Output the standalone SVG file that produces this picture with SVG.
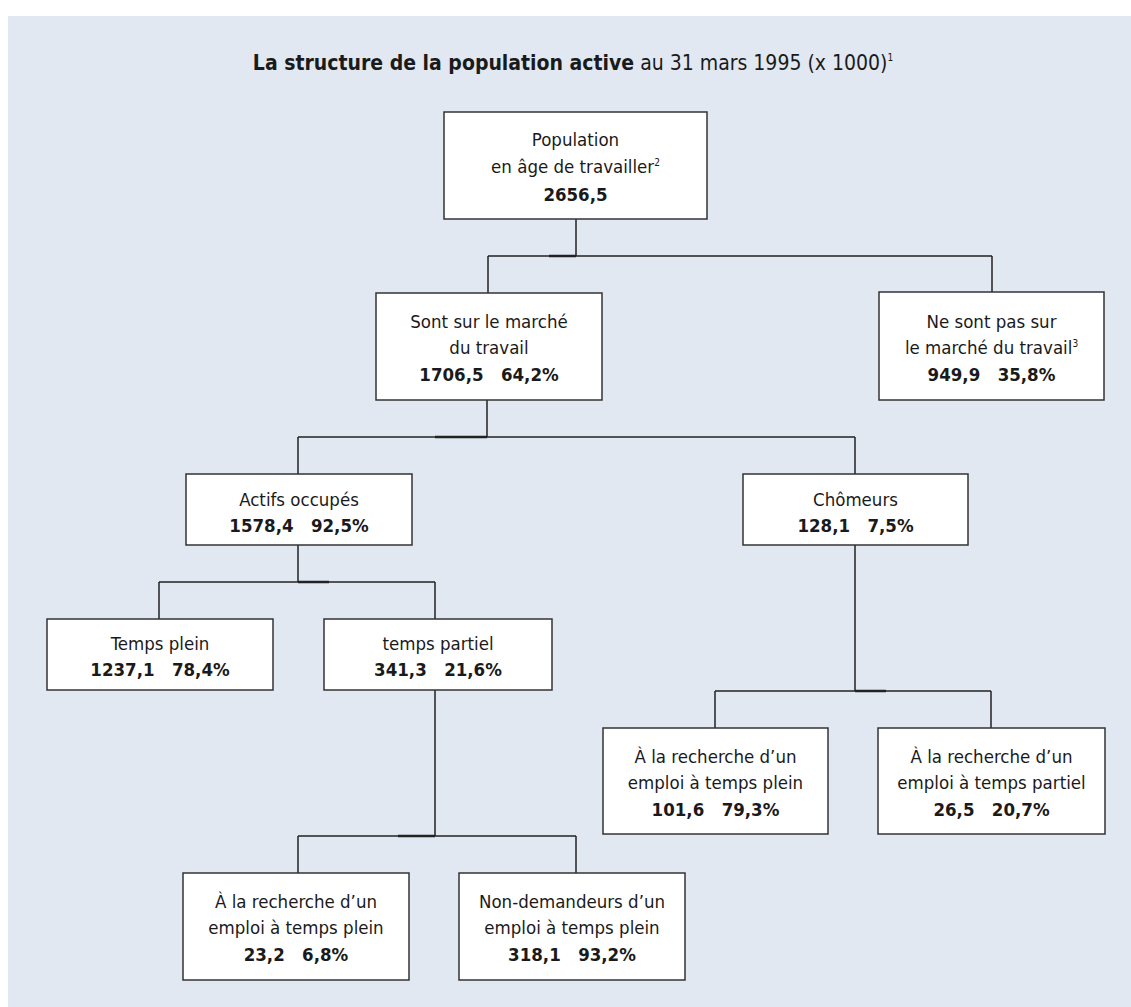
<svg xmlns="http://www.w3.org/2000/svg" width="1131" height="1007" viewBox="0 0 1131 1007">
<style>
.bg{fill:#E1E8F2}
.box{fill:#fff;stroke:#333;stroke-width:1.5}
.t{font-family:"DejaVu Sans Condensed","DejaVu Sans",sans-serif;font-stretch:condensed;font-size:18.5px;fill:#1a1a1a;text-anchor:middle}
.b{font-weight:bold}
.sup{font-size:10px}
.title{font-family:"DejaVu Sans Condensed","DejaVu Sans",sans-serif;font-stretch:condensed;font-size:21px;fill:#1a1a1a;text-anchor:middle}
.conn line{stroke:#222;stroke-width:1.5}
.conn line.thick{stroke-width:2.5}
</style>
<rect class="bg" x="8" y="16" width="1123" height="991"/>
<text class="title" x="573" y="70" xml:space="preserve"><tspan font-weight="bold">La structure de la population active</tspan> au 31 mars 1995 (x 1000)<tspan class="sup" dy="-9">1</tspan></text>
<g class="conn" id="connectors">
<line x1="576" y1="219" x2="576" y2="256"/>
<line x1="488" y1="256" x2="992" y2="256"/>
<line class="thick" x1="549" y1="256" x2="576" y2="256"/>
<line x1="488" y1="256" x2="488" y2="293"/>
<line x1="992" y1="256" x2="992" y2="292"/>
<line x1="487" y1="400" x2="487" y2="437"/>
<line x1="298" y1="437" x2="855" y2="437"/>
<line class="thick" x1="435" y1="437" x2="487" y2="437"/>
<line x1="298" y1="437" x2="298" y2="474"/>
<line x1="855" y1="437" x2="855" y2="474"/>
<line x1="298" y1="545" x2="298" y2="582"/>
<line x1="159" y1="582" x2="435" y2="582"/>
<line class="thick" x1="298" y1="582" x2="329" y2="582"/>
<line x1="159" y1="582" x2="159" y2="619"/>
<line x1="435" y1="582" x2="435" y2="619"/>
<line x1="435" y1="690" x2="435" y2="836"/>
<line x1="298" y1="836" x2="576" y2="836"/>
<line class="thick" x1="398" y1="836" x2="435" y2="836"/>
<line x1="298" y1="836" x2="298" y2="873"/>
<line x1="576" y1="836" x2="576" y2="873"/>
<line x1="855" y1="545" x2="855" y2="691"/>
<line x1="715" y1="691" x2="991" y2="691"/>
<line class="thick" x1="855" y1="691" x2="886" y2="691"/>
<line x1="715" y1="691" x2="715" y2="728"/>
<line x1="991" y1="691" x2="991" y2="728"/>
</g>
<g id="n-population">
<rect class="box" x="444" y="112" width="263" height="107"/>
<text class="t" x="575.5" y="146">Population</text>
<text class="t" x="575.5" y="173">en âge de travailler<tspan class="sup" dy="-7">2</tspan></text>
<text class="t b" x="575.5" y="201">2656,5</text>
</g>
<g id="n-sur-marche">
<rect class="box" x="376" y="293" width="226" height="107"/>
<text class="t" x="489" y="328">Sont sur le marché</text>
<text class="t" x="489" y="354">du travail</text>
<text class="t b" x="489" y="381" xml:space="preserve">1706,5   64,2%</text>
</g>
<g id="n-pas-sur-marche">
<rect class="box" x="879" y="292" width="225" height="108"/>
<text class="t" x="991.5" y="328">Ne sont pas sur</text>
<text class="t" x="991.5" y="354">le marché du travail<tspan class="sup" dy="-7">3</tspan></text>
<text class="t b" x="991.5" y="381" xml:space="preserve">949,9   35,8%</text>
</g>
<g id="n-actifs">
<rect class="box" x="186" y="474" width="226" height="71"/>
<text class="t" x="299" y="506">Actifs occupés</text>
<text class="t b" x="299" y="532" xml:space="preserve">1578,4   92,5%</text>
</g>
<g id="n-chomeurs">
<rect class="box" x="743" y="474" width="225" height="71"/>
<text class="t" x="855.5" y="506">Chômeurs</text>
<text class="t b" x="855.5" y="532" xml:space="preserve">128,1   7,5%</text>
</g>
<g id="n-temps-plein">
<rect class="box" x="47" y="619" width="226" height="71"/>
<text class="t" x="160" y="650">Temps plein</text>
<text class="t b" x="160" y="676" xml:space="preserve">1237,1   78,4%</text>
</g>
<g id="n-temps-partiel">
<rect class="box" x="324" y="619" width="228" height="71"/>
<text class="t" x="438" y="650">temps partiel</text>
<text class="t b" x="438" y="676" xml:space="preserve">341,3   21,6%</text>
</g>
<g id="n-ch-plein">
<rect class="box" x="603" y="728" width="225" height="106"/>
<text class="t" x="715.5" y="763">À la recherche d’un</text>
<text class="t" x="715.5" y="789">emploi à temps plein</text>
<text class="t b" x="715.5" y="816" xml:space="preserve">101,6   79,3%</text>
</g>
<g id="n-ch-partiel">
<rect class="box" x="878" y="728" width="227" height="106"/>
<text class="t" x="991.5" y="763">À la recherche d’un</text>
<text class="t" x="991.5" y="789">emploi à temps partiel</text>
<text class="t b" x="991.5" y="816" xml:space="preserve">26,5   20,7%</text>
</g>
<g id="n-tp-recherche">
<rect class="box" x="183" y="873" width="226" height="107"/>
<text class="t" x="296" y="908">À la recherche d’un</text>
<text class="t" x="296" y="934">emploi à temps plein</text>
<text class="t b" x="296" y="961" xml:space="preserve">23,2   6,8%</text>
</g>
<g id="n-tp-non">
<rect class="box" x="459" y="873" width="226" height="107"/>
<text class="t" x="572" y="908">Non-demandeurs d’un</text>
<text class="t" x="572" y="934">emploi à temps plein</text>
<text class="t b" x="572" y="961" xml:space="preserve">318,1   93,2%</text>
</g>
</svg>
